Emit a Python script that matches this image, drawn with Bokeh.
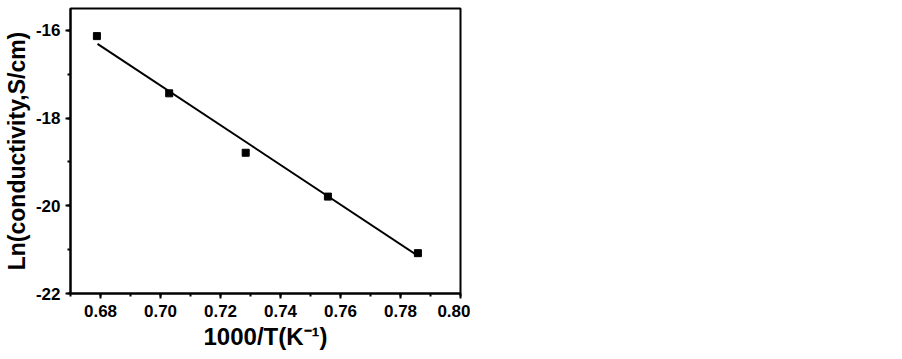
from bokeh.plotting import figure
from bokeh.models import Range1d, SingleIntervalTicker, PrintfTickFormatter
from bokeh.embed import file_html
from bokeh.resources import INLINE

# Data
inv_T = [0.6788, 0.7029, 0.7284, 0.7558, 0.7858]
ln_sigma = [-16.13, -17.435, -18.79, -19.79, -21.08]
# Linear fit line endpoints (as drawn)
fit_x = [0.679, 0.7858]
fit_y = [-16.305, -21.14]

FONT = "Liberation Sans"

p = figure(frame_width=390, frame_height=285, output_backend="svg", toolbar_location=None,
           x_range=Range1d(0.67, 0.80), y_range=Range1d(-22, -15.5),
           min_border_left=64, min_border_right=10, min_border_top=8,
           min_border_bottom=58)
p.background_fill_color = "white"
p.border_fill_color = "white"
p.grid.visible = False
p.outline_line_color = "black"
p.outline_line_width = 2

for ax in (p.xaxis[0], p.yaxis[0]):
    ax.axis_line_width = 2
    ax.major_tick_line_width = 2
    ax.minor_tick_line_width = 2
    ax.major_tick_out = 5
    ax.major_tick_in = 0
    ax.minor_tick_out = 3
    ax.minor_tick_in = 0
    ax.major_label_text_font = FONT
    ax.major_label_text_font_style = "bold"
    ax.major_label_text_font_size = "17px"
    ax.major_label_text_color = "black"
    ax.axis_label_text_font = FONT
    ax.axis_label_text_font_style = "bold"
    ax.axis_label_text_color = "black"

p.xaxis.ticker = SingleIntervalTicker(interval=0.02, num_minor_ticks=2)
p.yaxis.ticker = SingleIntervalTicker(interval=2, num_minor_ticks=2)
p.xaxis.formatter = PrintfTickFormatter(format="%.2f")
p.yaxis.formatter = PrintfTickFormatter(format="%d")
p.xaxis.major_label_standoff = 6
p.yaxis.major_label_standoff = 5

p.line(fit_x, fit_y, line_color="black", line_width=2)
p.scatter(inv_T, ln_sigma, marker="square", size=7, color="black")

# Axis titles
p.yaxis.axis_label = "Ln(conductivity,S/cm)"
p.yaxis.axis_label_text_font_size = "23px"
p.yaxis.axis_label_standoff = 3

p.xaxis.axis_label = "1000/T(K\u207b\u00b9)"
p.xaxis.axis_label_text_font_size = "24px"
p.xaxis.axis_label_standoff = 3

open("out.html", "w").write(file_html(p, INLINE))
